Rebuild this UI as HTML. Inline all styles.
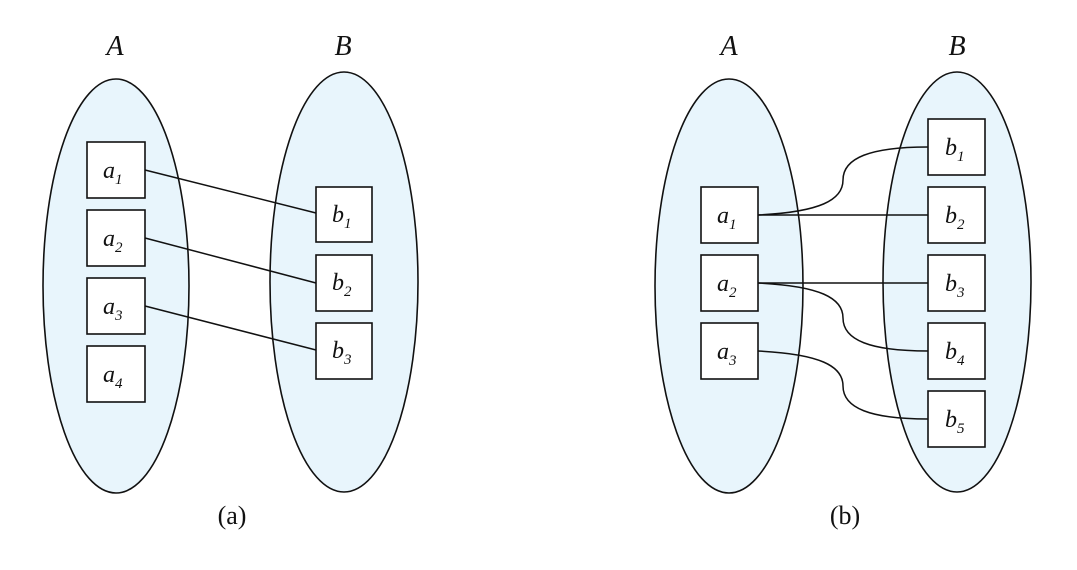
<!DOCTYPE html>
<html><head><meta charset="utf-8"><style>html,body{margin:0;padding:0;background:#fff}</style></head>
<body>
<svg width="1077" height="565" xmlns="http://www.w3.org/2000/svg" font-family="Liberation Serif, serif">
<g fill="#e8f5fc" stroke="#111" stroke-width="1.6">
<ellipse cx="116" cy="286" rx="73" ry="207"/>
<ellipse cx="344" cy="282" rx="74" ry="210"/>
<ellipse cx="729" cy="286" rx="74" ry="207"/>
<ellipse cx="957" cy="282" rx="74" ry="210"/>
</g>
<g stroke="#111" stroke-width="1.5" fill="none">
<line x1="145" y1="170" x2="316" y2="213"/>
<line x1="145" y1="238" x2="316" y2="283"/>
<line x1="145" y1="306" x2="316" y2="350"/>
<line x1="758" y1="215" x2="928" y2="215"/>
<line x1="758" y1="283" x2="928" y2="283"/>
<path d="M758,215 C820,212 843,200 843,180 C843,158 870,147 928,147"/>
<path d="M758,283 C820,286 843,298 843,318 C843,340 870,351 928,351"/>
<path d="M758,351 C820,354 843,366 843,386 C843,408 870,419 928,419"/>
</g>
<g fill="#fff" stroke="#111" stroke-width="1.6">
<rect x="87" y="142" width="58" height="56"/>
<rect x="87" y="210" width="58" height="56"/>
<rect x="87" y="278" width="58" height="56"/>
<rect x="87" y="346" width="58" height="56"/>
<rect x="316" y="187" width="56" height="55"/>
<rect x="316" y="255" width="56" height="56"/>
<rect x="316" y="323" width="56" height="56"/>
<rect x="701" y="187" width="57" height="56"/>
<rect x="701" y="255" width="57" height="56"/>
<rect x="701" y="323" width="57" height="56"/>
<rect x="928" y="119" width="57" height="56"/>
<rect x="928" y="187" width="57" height="56"/>
<rect x="928" y="255" width="57" height="56"/>
<rect x="928" y="323" width="57" height="56"/>
<rect x="928" y="391" width="57" height="56"/>
</g>
<g font-style="italic" font-size="28" fill="#111" text-anchor="middle">
<text x="115" y="55">A</text><text x="343" y="55">B</text>
<text x="729" y="55">A</text><text x="957" y="55">B</text>
</g>
<g font-style="italic" font-size="24" fill="#111">
<text x="103" y="178">a<tspan font-size="15" dy="6">1</tspan></text>
<text x="103" y="246">a<tspan font-size="15" dy="6">2</tspan></text>
<text x="103" y="314">a<tspan font-size="15" dy="6">3</tspan></text>
<text x="103" y="382">a<tspan font-size="15" dy="6">4</tspan></text>
<text x="332" y="222">b<tspan font-size="15" dy="6">1</tspan></text>
<text x="332" y="290">b<tspan font-size="15" dy="6">2</tspan></text>
<text x="332" y="358">b<tspan font-size="15" dy="6">3</tspan></text>
<text x="717" y="223">a<tspan font-size="15" dy="6">1</tspan></text>
<text x="717" y="291">a<tspan font-size="15" dy="6">2</tspan></text>
<text x="717" y="359">a<tspan font-size="15" dy="6">3</tspan></text>
<text x="945" y="155">b<tspan font-size="15" dy="6">1</tspan></text>
<text x="945" y="223">b<tspan font-size="15" dy="6">2</tspan></text>
<text x="945" y="291">b<tspan font-size="15" dy="6">3</tspan></text>
<text x="945" y="359">b<tspan font-size="15" dy="6">4</tspan></text>
<text x="945" y="427">b<tspan font-size="15" dy="6">5</tspan></text>
</g>
<g font-size="26" fill="#111" text-anchor="middle">
<text x="232" y="524">(a)</text><text x="845" y="524">(b)</text>
</g>
</svg>
</body></html>
